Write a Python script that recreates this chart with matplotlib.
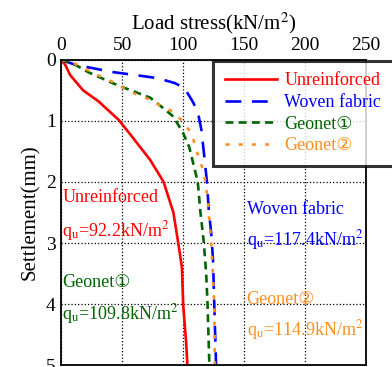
import numpy as np
import matplotlib
matplotlib.use("Agg")
import matplotlib.pyplot as plt

plt.rcParams['font.family'] = ['Liberation Serif', 'DejaVu Sans']
plt.rcParams['mathtext.fontset'] = 'stix'

# settlement (mm) vs load stress (kN/m2)
s_unr = [0, 0.08, 0.25, 0.5, 0.68, 0.98, 1.23, 1.64, 2.0, 2.5, 3.0, 3.4, 4.0, 4.64, 5.0]
q_unr = [0, 3.3, 7.4, 18, 30.6, 47, 57, 73, 84, 92, 96, 99, 100, 102.5, 103.5]

s_wov = [0, 0.08, 0.2, 0.25, 0.3, 0.38, 0.46, 0.69, 0.85, 1.15, 1.52, 2.0, 2.46, 2.84, 3.28, 4.0, 5.0]
q_wov = [0, 11.5, 42, 61, 79, 93, 101, 108, 112, 115, 117, 119.5, 121, 123, 124.5, 125.5, 127]

s_g1 = [0, 0.08, 0.2, 0.38, 0.46, 0.62, 0.78, 0.93, 1.2, 1.43, 2.0, 2.46, 3.0, 3.55, 4.0, 5.0]
q_g1 = [0, 11.5, 22, 42, 52, 73, 83, 92, 100, 105, 112, 114, 117, 119, 120, 121.5]

s_g2 = [0, 0.05, 0.25, 0.36, 0.46, 0.57, 0.65, 0.77, 0.85, 1.03, 1.23, 1.43, 1.84, 2.25, 3.0, 3.55, 4.0, 5.0]
q_g2 = [0, 10, 30, 42, 51, 62, 73, 83, 92, 100.6, 107.5, 110, 117, 120, 123, 124.5, 125.5, 126]

fig = plt.figure(figsize=(3.92, 3.67), dpi=100)
ax = fig.add_axes([0.156, 0.005, 0.778, 0.832])

ax.plot(q_unr, s_unr, color='#ff0000', lw=1.9, label='Unreinforced')
ax.plot(q_wov, s_wov, color='#0000ff', lw=1.9, ls=(0, (6, 4)), label='Woven fabric')
ax.plot(q_g1, s_g1, color='#006400', lw=1.9, ls=(0, (3, 2)), label='Geonet\u2460')
ax.plot(q_g2, s_g2, color='#ff9020', lw=1.9, ls=(0, (1.5, 3.5)), label='Geonet\u2461')

ax.set_xlim(0, 250)
ax.set_ylim(5, 0)
ax.set_xticks([0, 50, 100, 150, 200, 250])
ax.set_yticks([0, 1, 2, 3, 4, 5])
ax.xaxis.tick_top()
ax.xaxis.set_label_position('top')
ax.tick_params(length=0, labelsize=14, pad=4)
ax.set_xlabel('Load stress(kN/m$^2$)', fontsize=15, labelpad=6)
ax.set_ylabel('Settlement(mm)', fontsize=15, labelpad=4)
ax.grid(True, color='black', ls=':', lw=0.9)
for sp in ax.spines.values():
    sp.set_linewidth(1.3)

fs = 13
ax.text(1, 2.25, 'Unreinforced', color='#ff0000', fontsize=fs, va='center')
ax.text(1, 2.8, 'q$_\\mathrm{u}$=92.2kN/m$^2$', color='#ff0000', fontsize=fs, va='center')
ax.text(152, 2.45, 'Woven fabric', color='#0000ff', fontsize=fs, va='center')
ax.text(152, 2.95, 'q$_\\mathrm{u}$=117.4kN/m$^2$', color='#0000ff', fontsize=fs, va='center')
ax.text(1, 3.65, 'Geonet\u2460', color='#006400', fontsize=fs, va='center')
ax.text(1, 4.17, 'q$_\\mathrm{u}$=109.8kN/m$^2$', color='#006400', fontsize=fs, va='center')
ax.text(152, 3.92, 'Geonet\u2461', color='#ff9020', fontsize=fs, va='center')
ax.text(152, 4.43, 'q$_\\mathrm{u}$=114.9kN/m$^2$', color='#ff9020', fontsize=fs, va='center')

leg = ax.legend(loc='upper left', bbox_to_anchor=(0.498, 0.997, 0.7, 0.0), mode='expand',
                fontsize=fs, handlelength=2.9, handletextpad=0.4, frameon=True, fancybox=False,
                borderaxespad=0, labelspacing=0.25, borderpad=0.65)
leg.get_frame().set_edgecolor('black')
leg.get_frame().set_linewidth(2.2)
for t, c in zip(leg.get_texts(), ['#ff0000', '#0000ff', '#006400', '#ff9020']):
    t.set_color(c)

fig.savefig('out.png', dpi=100)
